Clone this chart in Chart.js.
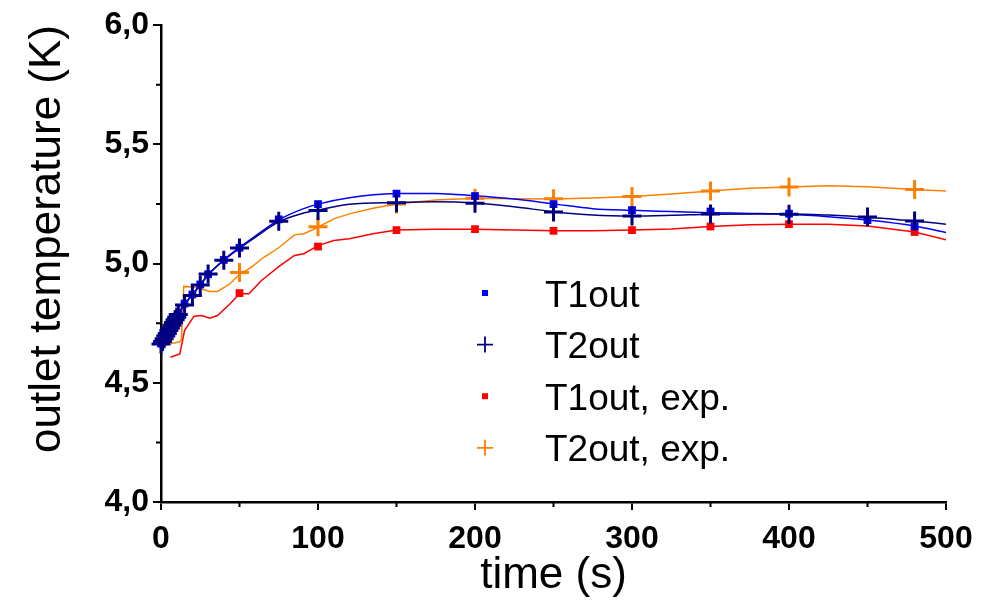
<!DOCTYPE html>
<html>
<head>
<meta charset="utf-8">
<script src="https://cdn.jsdelivr.net/npm/chart.js@4.4.1/dist/chart.umd.min.js"></script>
<style>
  html, body { margin: 0; padding: 0; background: #fff; }
  #wrap { width: 990px; height: 602px; }
</style>
</head>
<body>
<div id="wrap"><canvas id="tempChart" width="990" height="602"></canvas></div>
<script>
// simulation sample times (s) and marker values (K)
const simTimes = [0, 1, 2, 3, 4, 5, 6, 7, 8, 9, 10, 11, 15, 20, 25, 30, 40, 50, 75, 100, 150, 200, 250, 300, 350, 400, 450, 480];
const t1Out = [4.664, 4.676, 4.687, 4.698, 4.710, 4.721, 4.733, 4.744, 4.756, 4.767, 4.778, 4.789,
  4.832, 4.870, 4.912, 4.955, 5.015, 5.066, 5.185, 5.249, 5.293, 5.283, 5.249, 5.224, 5.218, 5.209, 5.182, 5.156];
const t2Out = [4.662, 4.673, 4.685, 4.696, 4.707, 4.719, 4.730, 4.741, 4.753, 4.764, 4.775, 4.786,
  4.826, 4.866, 4.910, 4.956, 5.014, 5.065, 5.177, 5.222, 5.255, 5.253, 5.216, 5.199, 5.208, 5.207, 5.195, 5.178];

// experiment marker times and values
const expTimes = [50, 100, 150, 200, 250, 300, 350, 400, 480];
const t1OutExp = [4.876, 5.071, 5.140, 5.144, 5.137, 5.140, 5.155, 5.165, 5.132];
const t2OutExp = [4.962, 5.154, 5.250, 5.274, 5.271, 5.281, 5.304, 5.321, 5.310];

// continuous curves
const simCurveTimes = [0, 5, 10, 15, 20, 25, 30, 40, 50, 60, 75, 90, 100, 120, 150, 175, 200, 225, 250, 275, 300, 325, 350, 375, 400, 425, 450, 480, 500];
const t1Curve = [4.655, 4.720, 4.780, 4.830, 4.870, 4.910, 4.952, 5.015, 5.067, 5.115, 5.183, 5.228, 5.249, 5.276, 5.293, 5.294, 5.284, 5.270, 5.250, 5.230, 5.223, 5.218, 5.213, 5.210, 5.206, 5.196, 5.182, 5.157, 5.130];
const t2Curve = [4.655, 4.718, 4.778, 4.828, 4.868, 4.910, 4.953, 5.013, 5.064, 5.110, 5.175, 5.210, 5.224, 5.248, 5.256, 5.259, 5.254, 5.238, 5.217, 5.203, 5.199, 5.202, 5.207, 5.208, 5.208, 5.203, 5.194, 5.178, 5.165];

const t1ExpCurveTimes = [6, 12, 15, 21, 26, 31, 36, 44, 50, 56, 64, 75, 85, 91, 100, 110, 120, 135, 150, 175, 200, 225, 250, 275, 300, 325, 350, 375, 400, 425, 450, 480, 500];
const t1ExpCurve = [4.607, 4.621, 4.719, 4.779, 4.782, 4.771, 4.782, 4.831, 4.873, 4.873, 4.929, 4.987, 5.034, 5.041, 5.075, 5.096, 5.104, 5.125, 5.140, 5.144, 5.144, 5.140, 5.137, 5.137, 5.140, 5.145, 5.155, 5.162, 5.165, 5.165, 5.157, 5.132, 5.100];

const t2ExpCurveTimes = [6, 12, 13, 14.5, 20, 25, 31, 36, 44, 50, 57, 65, 75, 85, 91, 100, 110, 120, 135, 150, 175, 200, 225, 250, 275, 300, 325, 350, 375, 400, 425, 450, 480, 500];
const t2ExpCurve = [4.663, 4.672, 4.680, 4.904, 4.901, 4.895, 4.883, 4.883, 4.915, 4.955, 4.982, 5.024, 5.066, 5.120, 5.125, 5.152, 5.187, 5.208, 5.232, 5.249, 5.266, 5.274, 5.272, 5.270, 5.275, 5.281, 5.291, 5.304, 5.316, 5.321, 5.326, 5.322, 5.310, 5.304];

// minor tick positions
const xMinorTicks = [50, 150, 250, 350, 450];
const yMinorTicks = [4.25, 4.75, 5.25, 5.75];

const BLUE = "#0000ff";
const NAVY = "#000080";
const RED = "#ff0000";
const ORANGE = "#ff8000";
const FONT = "'Liberation Sans', Arial, Helvetica, sans-serif";

const toPoints = (xs, ys) => xs.map((x, i) => ({ x, y: ys[i] }));

function markerSet(label, xs, ys, color, style, rank) {
  const cross = style === "cross";
  return {
    label,
    data: toPoints(xs, ys),
    showLine: false,
    pointStyle: style,
    pointRadius: cross ? 9.5 : 5.5,
    pointBorderWidth: cross ? 3 : 0,
    pointBackgroundColor: color,
    pointBorderColor: color,
    borderColor: color,
    clip: false,
    legendRank: rank,
  };
}

function curveSet(label, xs, ys, color, smooth) {
  return {
    label,
    data: toPoints(xs, ys),
    showLine: true,
    borderColor: color,
    borderWidth: 1.5,
    pointRadius: 0,
    tension: smooth ? 0.3 : 0,
    cubicInterpolationMode: smooth ? "monotone" : "default",
    fill: false,
  };
}

// custom legend placed inside the plot, like the original figure
const plotLegend = {
  id: "plotLegend",
  afterDraw(chart) {
    const { ctx } = chart;
    const items = chart.data.datasets.filter((d) => d.legendRank != null).sort((a, b) => a.legendRank - b.legendRank);
    ctx.save();
    ctx.font = `37px ${FONT}`;
    ctx.textBaseline = "alphabetic";
    ctx.textAlign = "left";
    items.forEach((d, i) => {
      const cy = 293 + i * 51.6;
      const cx = 485;
      ctx.fillStyle = d.pointBackgroundColor;
      ctx.strokeStyle = d.pointBorderColor;
      if (d.pointStyle === "rect") {
        ctx.fillRect(cx - 3, cy - 3, 6, 6);
      } else {
        ctx.lineWidth = 1.8;
        ctx.beginPath();
        ctx.moveTo(cx - 8, cy);
        ctx.lineTo(cx + 8, cy);
        ctx.moveTo(cx, cy - 8);
        ctx.lineTo(cx, cy + 8);
        ctx.stroke();
      }
      ctx.fillStyle = "#000";
      ctx.fillText(d.label, 545, cy + 13.5);
    });
    ctx.restore();
  },
};

const minorTicks = {
  id: "minorTicks",
  afterDraw(chart) {
    const { ctx, scales: { x, y } } = chart;
    ctx.save();
    ctx.strokeStyle = "#000";
    ctx.lineWidth = 2;
    ctx.beginPath();
    xMinorTicks.forEach((v) => {
      const px = x.getPixelForValue(v);
      ctx.moveTo(px, x.top);
      ctx.lineTo(px, x.top + 5);
    });
    yMinorTicks.forEach((v) => {
      const py = y.getPixelForValue(v);
      ctx.moveTo(y.right, py);
      ctx.lineTo(y.right - 5, py);
    });
    ctx.stroke();
    ctx.restore();
  },
};

const tickFont = { family: FONT, size: 32, weight: "bold" };
const titleFont = { family: FONT, size: 44, weight: "normal" };

new Chart(document.getElementById("tempChart"), {
  type: "scatter",
  data: {
    datasets: [
      markerSet("T2out", simTimes, t2Out, NAVY, "cross", 2),
      markerSet("T1out", simTimes, t1Out, BLUE, "rect", 1),
      markerSet("T2out, exp.", expTimes, t2OutExp, ORANGE, "cross", 4),
      markerSet("T1out, exp.", expTimes, t1OutExp, RED, "rect", 3),
      curveSet("T2out curve", simCurveTimes, t2Curve, NAVY, true),
      curveSet("T1out curve", simCurveTimes, t1Curve, BLUE, true),
      curveSet("T2out exp curve", t2ExpCurveTimes, t2ExpCurve, ORANGE, false),
      curveSet("T1out exp curve", t1ExpCurveTimes, t1ExpCurve, RED, false),
    ],
  },
  options: {
    responsive: false,
    animation: false,
    devicePixelRatio: 1,
    layout: { padding: { top: 25, right: 44, left: 0, bottom: 0 } },
    plugins: {
      legend: { display: false },
      tooltip: { enabled: false },
    },
    scales: {
      x: {
        type: "linear",
        min: 0,
        max: 500,
        afterFit: (scale) => { scale.height = 100; },
        ticks: { stepSize: 100, color: "#000", font: tickFont, padding: 10 },
        grid: { drawOnChartArea: false, drawTicks: true, tickLength: 8, color: "#000", lineWidth: 2 },
        border: { color: "#000", width: 2.5 },
        title: { display: true, text: "time (s)", color: "#000", font: titleFont, padding: { top: 0, bottom: 0 } },
      },
      y: {
        type: "linear",
        min: 4,
        max: 6,
        afterFit: (scale) => { scale.width = 161; },
        ticks: {
          stepSize: 0.5,
          color: "#000",
          font: tickFont,
          padding: 4,
          callback: (v) => v.toFixed(1).replace(".", ","),
        },
        grid: { drawOnChartArea: false, drawTicks: true, tickLength: 8, color: "#000", lineWidth: 2 },
        border: { color: "#000", width: 2.5 },
        title: { display: true, text: "outlet temperature (K)", color: "#000", font: titleFont, align: "end", padding: { top: 21, bottom: 0 } },
      },
    },
  },
  plugins: [plotLegend, minorTicks],
});
</script>
</body>
</html>
